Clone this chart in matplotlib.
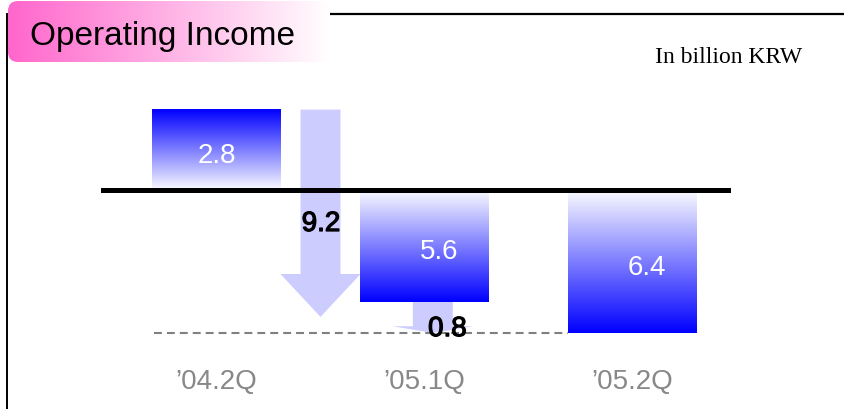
import numpy as np
import matplotlib.pyplot as plt
import matplotlib.patheffects as pe
from matplotlib.colors import LinearSegmentedColormap
from matplotlib.patches import FancyBboxPatch

# Дані з графіку
quarters = ["\u201904.2Q", "\u201905.1Q", "\u201905.2Q"]
income_labels = ["2.8", "5.6", "6.4"]
# висоти стовпців так, як вони намальовані на слайді (не в масштабі)
bar_heights = [3.6, -5.0, -6.4]
change_labels = ["9.2", "0.8"]
change_from = [3.6, -5.0]
change_to = [-5.68, -6.4]

plt.rcParams['font.family'] = ['Liberation Sans', 'DejaVu Sans']

fig = plt.figure(figsize=(8.45, 4.09), dpi=100)

# Декоративний шар у піксельних координатах
deco = fig.add_axes([0, 0, 1, 1])
deco.set_xlim(0, 845)
deco.set_ylim(409, 0)
deco.axis('off')

deco.plot([328, 845], [14, 14], color='black', lw=1.6)
deco.plot([7.5, 7.5], [14, 409], color='black', lw=1.4)

pink = np.array([255, 102, 204]) / 255
t = np.linspace(0, 1, 256).reshape(1, -1, 1)
titleGrad = pink * (1 - t) + np.ones(3) * t
box = FancyBboxPatch((8, 1), 322, 61, boxstyle="round,pad=0,rounding_size=10",
                     facecolor='none', edgecolor='none')
deco.add_patch(box)
im = deco.imshow(titleGrad, extent=[8, 330, 62, 1], aspect='auto', zorder=2)
im.set_clip_path(box)
deco.text(30, 45, "Operating Income", fontsize=24, va='baseline', ha='left', zorder=3)
deco.text(655, 63, "In billion KRW", fontsize=17, family=['Liberation Serif', 'DejaVu Serif'],
          va='baseline', ha='left')

# Основний графік
ax = fig.add_axes([0, 0, 1, 1])
ax.axis('off')

barWidth = 0.62
cmap = LinearSegmentedColormap.from_list("wb", ["#fbfbff", "#0000ff"])
grad = np.linspace(0, 1, 256).reshape(-1, 1)
for i, h in enumerate(bar_heights):
    g = grad if h > 0 else grad[::-1]
    ax.imshow(g, cmap=cmap, aspect='auto', origin='lower',
              extent=[i - barWidth / 2, i + barWidth / 2, min(0, h), max(0, h)], zorder=2)
    dx = 0 if h > 0 else 0.068
    ax.text(i + dx, h / 2 - 0.6, income_labels[i], color='white', fontsize=20,
            ha='center', va='baseline', zorder=5)
    ax.text(i, -8.91, quarters[i], color='#888888', fontsize=20, ha='center', va='baseline')

# Стрілки зміни
arrowX = [0.5, 1.04]
headLen = [1.92, 0.3]
labelPos = [(0.502, -1.835), (1.11, -6.54)]
for k in range(len(change_labels)):
    ax.arrow(arrowX[k], change_from[k], 0, change_to[k] - change_from[k], width=0.192,
             head_width=0.385, head_length=headLen[k], length_includes_head=True,
             color='#ccccff', lw=0, zorder=1)
    ax.text(labelPos[k][0], labelPos[k][1], change_labels[k], color='black', fontsize=20,
            ha='center', va='baseline', zorder=6,
            path_effects=[pe.withStroke(linewidth=0.9, foreground='black')])

ax.axhline(0, xmin=103 / 845, xmax=728 / 845, color='black', lw=3.6, zorder=4)
ax.hlines(bar_heights[2], -0.3, 2 - barWidth / 2, color='#808080', lw=1.5,
          linestyles=(0, (3.8, 2.4)), zorder=3)

ax.set_xlim(-1.0409, 3.0216)
ax.set_ylim(-9.803, 8.505)

fig.savefig("out.png", dpi=100)
